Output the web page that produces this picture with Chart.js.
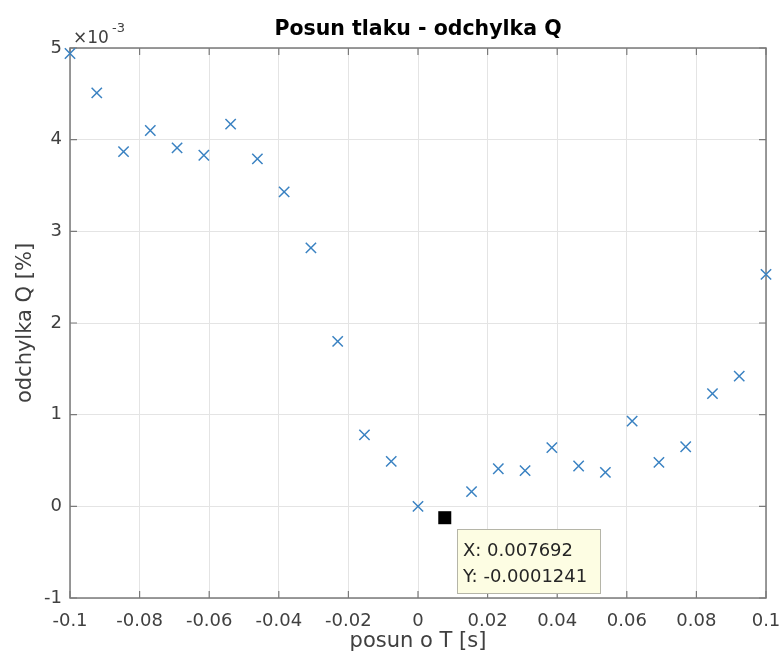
<!DOCTYPE html>
<html>
<head>
<meta charset="utf-8">
<script src="https://cdn.jsdelivr.net/npm/chart.js@4.4.0/dist/chart.umd.min.js"></script>
<style>
  html, body { margin: 0; padding: 0; background: #fff; }
  #wrap { width: 781px; height: 660px; }
</style>
</head>
<body>
<div id="wrap"><canvas id="chart" width="781" height="660"></canvas></div>
<script>
// posun o T [s]
var xValues = [-0.1, -0.092308, -0.084615, -0.076923, -0.069231, -0.061538, -0.053846,
  -0.046154, -0.038462, -0.030769, -0.023077, -0.015385, -0.007692, 0,
  0.007692, 0.015385, 0.023077, 0.030769, 0.038462, 0.046154, 0.053846,
  0.061538, 0.069231, 0.076923, 0.084615, 0.092308, 0.1];
// odchylka Q [%], in units of 10^-3
var yValues = [4.94, 4.51, 3.87, 4.10, 3.91, 3.83, 4.17,
  3.79, 3.43, 2.82, 1.80, 0.78, 0.49, 0.00,
  -0.1241, 0.16, 0.41, 0.39, 0.64, 0.44, 0.37,
  0.93, 0.48, 0.65, 1.23, 1.42, 2.53];

var xTickLabels = ["-0.1", "-0.08", "-0.06", "-0.04", "-0.02", "0", "0.02", "0.04", "0.06", "0.08", "0.1"];
var yTickLabels = ["-1", "0", "1", "2", "3", "4", "5"];

// data tip
var tipIndex = 14;
var tipText = ["X: 0.007692", "Y: -0.0001241"];

var points = [];
for (var i = 0; i < xValues.length; i++) {
  points.push({ x: xValues[i], y: yValues[i] });
}

var textColor = "#404040";
var font = "'DejaVu Sans', sans-serif";

var decor = {
  id: "decor",
  beforeDatasetsDraw: function(chart) {
    var ctx = chart.ctx;
    var a = chart.chartArea;
    var xs = chart.scales.x, ys = chart.scales.y;
    ctx.save();
    ctx.strokeStyle = "#7a7a7a";
    ctx.lineWidth = 1.5;
    ctx.strokeRect(a.left, a.top, a.right - a.left, a.bottom - a.top);
    // inward ticks
    ctx.lineWidth = 1.2;
    ctx.beginPath();
    xs.ticks.forEach(function(t) {
      var px = xs.getPixelForValue(t.value);
      ctx.moveTo(px, a.bottom); ctx.lineTo(px, a.bottom - 7);
      ctx.moveTo(px, a.top); ctx.lineTo(px, a.top + 7);
    });
    ys.ticks.forEach(function(t) {
      var py = ys.getPixelForValue(t.value);
      ctx.moveTo(a.left, py); ctx.lineTo(a.left + 7, py);
      ctx.moveTo(a.right, py); ctx.lineTo(a.right - 7, py);
    });
    ctx.stroke();
    ctx.restore();
  },
  afterDraw: function(chart) {
    var ctx = chart.ctx;
    var a = chart.chartArea;
    var cx = (a.left + a.right) / 2;
    ctx.save();
    // title
    ctx.fillStyle = "#000";
    ctx.font = "bold 20.5px " + font;
    ctx.textAlign = "center";
    ctx.textBaseline = "alphabetic";
    ctx.fillText("Posun tlaku - odchylka Q", cx, 35);
    // x label
    ctx.fillStyle = textColor;
    ctx.font = "21px " + font;
    ctx.fillText("posun o T [s]", cx, 647);
    // y label
    ctx.save();
    ctx.translate(31, (a.top + a.bottom) / 2);
    ctx.rotate(-Math.PI / 2);
    ctx.fillText("odchylka Q [%]", 0, 0);
    ctx.restore();
    // exponent
    ctx.textAlign = "left";
    ctx.font = "17px " + font;
    ctx.fillText("\u00d710", 73, 43);
    ctx.font = "13px " + font;
    ctx.fillText("-3", 112, 32);
    // data tip box
    var p = chart.getDatasetMeta(1).data[0];
    var bx = Math.round(p.x + 12), by = Math.round(p.y + 11), bw = 143, bh = 64;
    ctx.fillStyle = "#fdfde3";
    ctx.fillRect(bx, by, bw, bh);
    ctx.strokeStyle = "#b5b5a8";
    ctx.lineWidth = 1;
    ctx.strokeRect(bx + 0.5, by + 0.5, bw, bh);
    ctx.fillStyle = "#262626";
    ctx.font = "18px " + font;
    ctx.fillText(tipText[0], bx + 6, by + 27);
    ctx.fillText(tipText[1], bx + 6, by + 53);
    ctx.restore();
  }
};

var ctx = document.getElementById("chart");
var chart = new Chart(ctx, {
  type: "scatter",
  data: {
    datasets: [
      {
        label: "odchylka Q",
        data: points,
        pointStyle: "crossRot",
        pointRadius: 7.3,
        pointBorderWidth: 1.5,
        borderColor: "#3a82c2",
        backgroundColor: "#3a82c2",
        order: 1,
        clip: false
      },
      {
        label: "datatip",
        data: [{ x: xValues[tipIndex], y: yValues[tipIndex] }],
        pointStyle: "rect",
        pointRadius: 9.2,
        pointBorderWidth: 0,
        borderColor: "#000",
        backgroundColor: "#000",
        order: 0,
        clip: false
      }
    ]
  },
  options: {
    responsive: false,
    animation: false,
    events: [],
    layout: { padding: { top: 48, right: 15, left: 0, bottom: 0 } },
    plugins: {
      legend: { display: false },
      tooltip: { enabled: false },
      title: { display: false }
    },
    scales: {
      x: {
        type: "linear",
        min: -0.1,
        max: 0.1,
        afterFit: function(s) { s.height = 62; s.paddingLeft = 0; s.paddingRight = 0; },
        afterBuildTicks: function(s) {
          s.ticks = xTickLabels.map(function(l) { return { value: parseFloat(l) }; });
        },
        ticks: {
          padding: 13,
          color: textColor,
          font: { family: "'DejaVu Sans'", size: 18 },
          maxRotation: 0,
          callback: function(v, i) { return xTickLabels[i]; }
        },
        grid: { color: "#e4e4e4", lineWidth: 1, drawTicks: false },
        border: { display: false }
      },
      y: {
        type: "linear",
        min: -1,
        max: 5,
        afterFit: function(s) { s.width = 70; s.paddingTop = 0; s.paddingBottom = 0; },
        afterBuildTicks: function(s) {
          s.ticks = yTickLabels.map(function(l) { return { value: parseFloat(l) }; });
        },
        ticks: {
          padding: 8,
          color: textColor,
          font: { family: "'DejaVu Sans'", size: 18 },
          callback: function(v, i) { return yTickLabels[i]; }
        },
        grid: { color: "#e4e4e4", lineWidth: 1, drawTicks: false },
        border: { display: false }
      }
    }
  },
  plugins: [decor]
});
</script>
</body>
</html>
